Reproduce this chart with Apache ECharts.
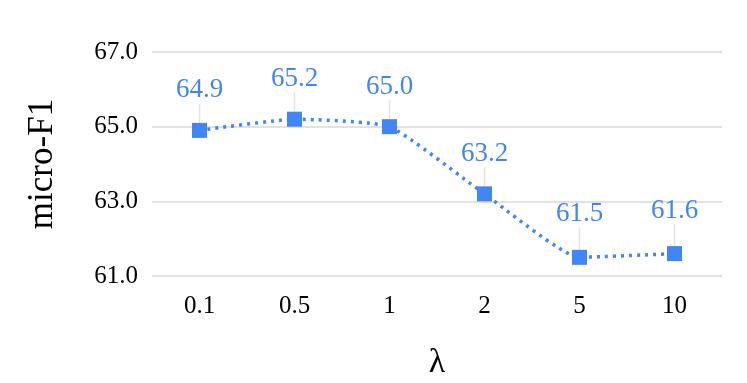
<!DOCTYPE html>
<html>
<head>
<meta charset="utf-8">
<script src="https://cdn.jsdelivr.net/npm/echarts@6/dist/echarts.min.js"></script>
<style>
html,body{margin:0;padding:0;background:#fff;}
#chart{width:747px;height:383px;}
</style>
</head>
<body>
<div id="chart"></div>
<script>
var lambdas = ['0.1', '0.5', '1', '2', '5', '10'];
var microF1 = [64.9, 65.2, 65.0, 63.2, 61.5, 61.6];
var yTicks = [61, 63, 65, 67];

var myChart = echarts.init(document.getElementById('chart'));
var font = '"Liberation Serif", "Times New Roman", serif';
var blue = '#4285F4';

var option = {
	animation: false,
	grid: {
		left: 152,
		right: 25,
		top: 52,
		bottom: 107,
		containLabel: false,
		outerBoundsMode: 'none'
	},
	xAxis: {
		type: 'category',
		data: lambdas,
		name: 'λ',
		nameLocation: 'middle',
		nameGap: 70,
		nameTextStyle: { fontFamily: font, fontSize: 34, color: '#000' },
		axisLine: { show: false },
		axisTick: { show: false },
		axisLabel: { fontFamily: font, fontSize: 25, color: '#000', margin: 18 }
	},
	yAxis: {
		type: 'value',
		min: yTicks[0],
		max: yTicks[yTicks.length - 1],
		interval: 2,
		name: 'micro-F1',
		nameLocation: 'middle',
		nameGap: 92,
		nameRotate: 90,
		nameTextStyle: { fontFamily: font, fontSize: 35, color: '#000' },
		axisLine: { show: false },
		axisTick: { show: false },
		axisLabel: {
			fontFamily: font, fontSize: 25, color: '#000', margin: 14,
			formatter: function(v) { return v.toFixed(1); }
		},
		splitLine: { lineStyle: { color: '#d9d9d9', width: 1.5 } }
	},
	series: [{
		type: 'line',
		data: microF1,
		smooth: 0.15,
		symbol: 'rect',
		symbolSize: 15,
		itemStyle: { color: blue },
		lineStyle: { color: blue, width: 3.5, type: [3, 5], cap: 'butt' },
		label: {
			show: true,
			position: 'top',
			distance: 4,
			fontFamily: font,
			fontSize: 27,
			color: blue,
			formatter: function(p) { return p.value.toFixed(1); }
		},
		labelLayout: function(p) {
			return { dy: p.dataIndex >= 4 ? -18 : -15 };
		},
		labelLine: { show: true, lineStyle: { color: '#e3e3e3', width: 1.5 } }
	}]
};

myChart.setOption(option);
</script>
</body>
</html>
